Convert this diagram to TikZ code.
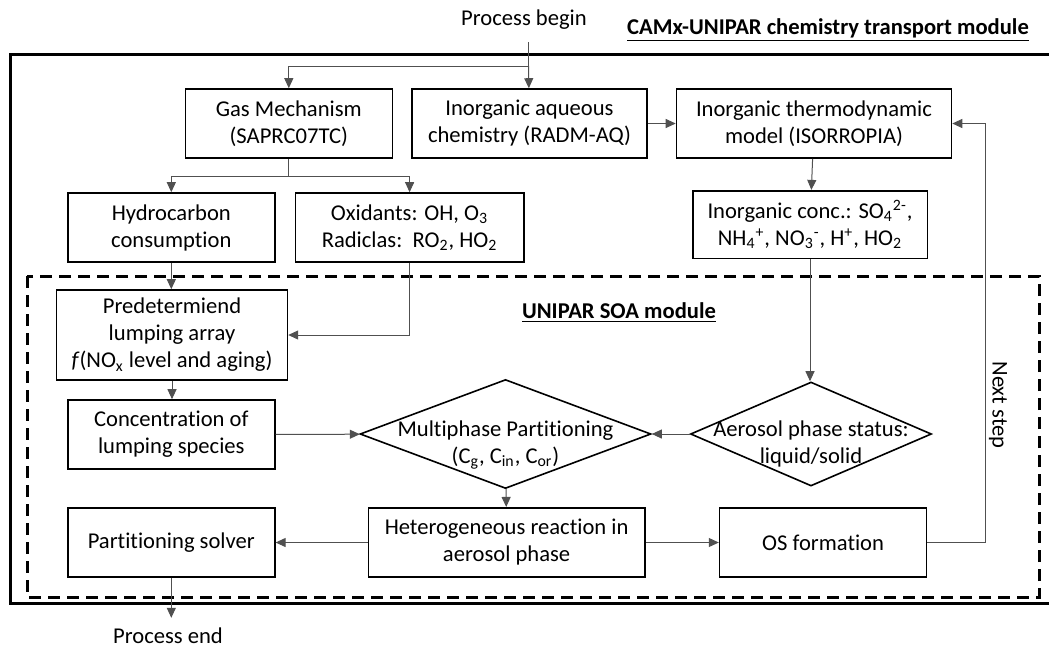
\documentclass[tikz,border=0pt]{standalone}
\usepackage{fontspec}
\setmainfont{Carlito}[Ligatures=NoCommon]
\usepackage{tikz}
\usetikzlibrary{shapes.geometric,arrows.meta,positioning,calc}
\definecolor{linegray}{RGB}{80,80,80}

\begin{document}
\begin{tikzpicture}[x=0.5pt, y=-0.5pt, font=\fontsize{11.3}{13.5}\selectfont,
				box/.style={rectangle, draw, line width=0.8pt, minimum width=103.5pt, minimum height=34.5pt, align=center, inner sep=1pt},
				decision/.style={diamond, draw, line width=0.8pt, inner sep=0pt},
				dtext/.style={align=center, inner sep=0pt, yshift=-5.5pt},
				arr/.style={-{Triangle[length=5pt,width=4.5pt]}, line width=0.5pt, linegray},
				title/.style={font=\fontsize{11.3}{13.5}\selectfont\bfseries, inner sep=0pt}]
				\useasboundingbox (0,0) rectangle (1049,649);
				% frames
				\draw[line width=1.5pt] (1049,54) -| (10,603) -- (1049,603);
				\draw[line width=1.5pt, dash pattern=on 6pt off 3.5pt] (27,276) rectangle (1039,597);
				\node[title] (camx) at (828,30) {\underline{CAMx-UNIPAR chemistry transport module}};
				\node[title] (soa) at (619,313) {\underline{UNIPAR SOA module}};
				
				\node (begin) at (524,20) {Process begin};
				\coordinate (top) at (528.5,42);
				\coordinate (split) at (528.5,66);
				
				\node[box] (gas) at (288.8,123.5) {Gas Mechanism\\(SAPRC07TC)};
				\node[box, minimum width=117.7pt, right=8.95pt of gas] (aqueous) {Inorganic aqueous\\chemistry (RADM-AQ)};
				\node[box, minimum width=137.5pt, right=13.85pt of aqueous] (thermo) {Inorganic thermodynamic\\model (ISORROPIA)};
				
				\node[box] (hydro) at (171.3,227.5) {Hydrocarbon\\consumption};
				\node[box, minimum width=114.2pt] (oxid) at (409.6,227.5) {Oxidants: OH, O\textsubscript{3}\\Radiclas:\ \ RO\textsubscript{2}, HO\textsubscript{2}};
				\node[box, minimum width=117.3pt, minimum height=33.8pt] (inconc) at (810,224.5) {Inorganic conc.: SO\textsubscript{4}\textsuperscript{2-},\\NH\textsubscript{4}\textsuperscript{+}, NO\textsubscript{3}\textsuperscript{-}, H\textsuperscript{+}, HO\textsubscript{2}};
				
				\node[box, minimum width=115.4pt, minimum height=45pt] (predet) at (172,335) {Predetermiend\\lumping array\\\textit{f}(NO\textsubscript{x} level and aging)};
				\node[box] (lumping) at (171.3,434.5) {Concentration of\\lumping species};
				\node[decision, minimum width=145.5pt, minimum height=54.5pt,
					label={[dtext]center:Multiphase Partitioning\\(C\textsubscript{g}, C\textsubscript{in}, C\textsubscript{or})}] (multi) at (505.5,434) {};
				\node[decision, minimum width=120.5pt, minimum height=52pt,
					label={[dtext, yshift=0.5pt]center:Aerosol phase status:\\liquid/solid}] (aerosol) at (811,434) {};
				
				\node[box] (solver) at (171.3,542.5) {Partitioning solver};
				\node[box, minimum width=138.2pt, minimum height=34.75pt, right=46pt of solver] (hetero) {Heterogeneous reaction in\\aerosol phase};
				\node[box, right=36.6pt of hetero] (osform) {OS formation};
				
				\node[rotate=-90] (next) at (998,405) {Next step};
				\node (end) at (168,636) {Process end};
				
				\draw[line width=0.5pt, linegray] (top) -- (split);
				\draw[arr] (split) -- (aqueous);
				\draw[arr] (split) -| (gas);
				\draw[line width=0.5pt, linegray] (gas.south) -- ++(0,18) coordinate (gsplit);
				\draw[arr] (gsplit) -| (hydro);
				\draw[arr] (gsplit) -| (oxid);
				\draw[arr] (aqueous) -- (thermo);
				\draw[arr] (thermo) -- (inconc);
				\draw[arr] (hydro.south) -- (hydro.south |- predet.north);
				\draw[arr] (oxid.south) |- (predet.east);
				\draw[arr] (predet.south) -- (predet.south |- lumping.north);
				\draw[arr] (lumping) -- (multi);
				\draw[arr] (inconc.south) -- (inconc.south |- aerosol.north);
				\draw[arr] (aerosol) -- (multi);
				\draw[arr] (multi) -- (hetero);
				\draw[arr] (hetero) -- (solver);
				\draw[arr] (hetero) -- (osform);
				\draw[arr] (osform.east) -- ++(58.5,0) |- (thermo.east);
				\draw[arr] (solver.south) -- ++(0,40);
			\end{tikzpicture}
\end{document}
